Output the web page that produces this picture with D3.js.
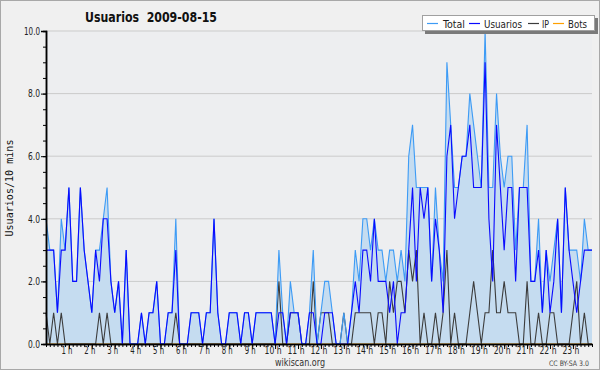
<!DOCTYPE html>
<html><head><meta charset="utf-8">
<script src="https://cdn.jsdelivr.net/npm/d3@7"></script>
<style>body{margin:0;background:#f0f0f0}svg{display:block}</style>
</head><body><svg id="c" width="600" height="370"></svg>
<script>
const hourLabels = ["1 h","2 h","3 h","4 h","5 h","6 h","7 h","8 h","9 h","10 h","11 h","12 h","13 h","14 h","15 h","16 h","17 h","18 h","19 h","20 h","21 h","22 h","23 h"];
const yTicks = [0, 2, 4, 6, 8, 10];
const total = [4,3,3,1,4,3,5,2,2,5, 3,2,1,3,3,4,5,2,1,2, 0,3,0,0,0,1,0,1,1,2, 0,0,1,1,4,0,0,0,1,1,
  1,0,1,1,4,1,0,0,1,1, 1,0,1,1,0,1,1,1,1,1, 0,3,1,0,2,1,1,0,0,1, 3,0,1,2,2,1,0,0,1,0,
  1,3,2,4,4,3,4,3,3,2, 3,3,2,3,2,6,7,5,5,5, 5,2,5,3,2,9,7,5,5,6, 6,8,7,6,5,10,5,5,8,6,
  5,6,6,3,5,5,7,2,2,4, 1,3,2,3,4,1,5,3,3,3, 2,4,3,3];
const usuarios = [3,3,3,1,3,3,5,2,2,5, 3,2,1,3,2,4,4,2,1,2, 0,3,0,0,0,1,0,1,1,2, 0,0,1,1,3,0,0,0,1,1,
  1,0,1,1,4,1,0,0,1,1, 1,0,1,1,0,1,1,1,1,1, 0,1,1,0,1,1,1,0,0,1, 1,0,0,1,1,1,0,0,0,0,
  1,2,1,3,3,2,4,2,2,2, 1,2,0,1,1,3,5,2,5,4, 5,2,4,3,1,6,7,4,5,6, 6,7,5,5,5,9,4,2,7,5,
  3,5,5,2,5,5,5,2,2,3, 1,3,1,2,4,1,5,3,2,1, 2,3,3,3];
const ip = [1,0,1,0,1,0,0,0,0,0, 0,0,0,0,1,0,1,0,0,0, 0,0,0,0,0,0,0,0,0,0, 0,0,0,0,1,0,0,0,0,0,
  0,0,0,0,0,0,0,0,0,0, 0,0,0,0,0,0,0,0,0,0, 0,2,0,0,1,1,1,0,0,0, 2,0,1,1,1,0,0,0,1,0,
  0,1,1,1,1,1,0,1,1,0, 2,1,2,2,1,3,2,3,0,1, 0,0,1,0,1,3,0,1,0,0, 0,1,2,1,0,1,1,3,1,1,
  2,1,1,1,0,0,2,0,0,1, 0,0,1,1,0,0,0,0,1,2, 0,1,0,0];
const bots = [0,0,0,0,0,0,0,0,0,0, 0,0,0,0,0,0,0,0,0,0, 0,0,0,0,0,0,0,0,0,0, 0,0,0,0,0,0,0,0,0,0,
  0,0,0,0,0,0,0,0,0,0, 0,0,0,0,0,0,0,0,0,0, 0,0,0,0,0,0,0,0,0,0, 0,0,0,0,0,0,0,0,0,0,
  0,0,0,0,0,0,0,0,0,0, 0,0,0,0,0,0,0,0,0,0, 0,0,0,0,0,0,0,0,0,0, 0,0,0,0,0,0,0,0,0,0,
  0,0,0,0,0,0,0,0,0,0, 0,0,0,0,0,0,0,0,0,0, 0,0,0,0];
const legendNames = ["Total","Usuarios","IP","Bots"];
const colors = {Total:"#3d9bf5", Usuarios:"#0a0aff", IP:"#3c3c3c", Bots:"#ffa000"};

const svg = d3.select("#c");
const W = 600, H = 370;
const x = d3.scaleLinear().domain([0, 143]).range([46, 592]);
const y = d3.scaleLinear().domain([0, 10]).range([344, 31]);
const FONT = "'DejaVu Sans Condensed','DejaVu Sans',sans-serif";

svg.append("rect").attr("x",0.5).attr("y",0.5).attr("width",W-1).attr("height",H-1)
  .attr("fill","#f0f0f0").attr("stroke","#a8a8a8");
svg.append("rect").attr("x",46).attr("y",y(10)).attr("width",592-46).attr("height",y(0)-y(10))
  .attr("fill","#edeef0");

// grid
svg.append("g").selectAll("line").data(yTicks.filter(d=>d>0)).join("line")
  .attr("x1",46).attr("x2",592).attr("y1",d=>y(d)).attr("y2",d=>y(d))
  .attr("stroke","#cbcbcb").attr("stroke-width",1);

const idx = d3.range(total.length);
svg.append("path").datum(idx)
  .attr("d", d3.area().x(i=>x(i)).y0(y(0)).y1(i=>y(total[i])))
  .attr("fill","#c5dcf0");

function line(arr, col, w){
  svg.append("path").datum(idx)
    .attr("d", d3.line().x(i=>x(i)).y(i=>y(arr[i])))
    .attr("fill","none").attr("stroke",col).attr("stroke-width",w).attr("stroke-linejoin","miter");
}
line(bots, colors.Bots, 1.1);
line(ip, colors.IP, 1.1);
line(total, colors.Total, 1.1);
line(usuarios, colors.Usuarios, 1.1);

// y axis
const gy = svg.append("g").attr("transform","translate(46,0)");
gy.call(d3.axisLeft(y).tickValues(d3.range(0,10.01,0.5)).tickSize(3).tickFormat(""));
const gy2 = svg.append("g").attr("transform","translate(46,0)");
gy2.call(d3.axisLeft(y).tickValues(yTicks).tickSize(5).tickPadding(1).tickFormat(d3.format(".1f")));
[gy,gy2].forEach(g=>{g.select(".domain").attr("stroke","#000").attr("stroke-width",1.5);
  g.selectAll(".tick line").attr("stroke","#000");});
gy2.selectAll("text").attr("font-family",FONT).attr("font-size",10).attr("fill","#222")
  .attr("textLength",d=>d>=10?16:12).attr("lengthAdjust","spacingAndGlyphs");

// x axis
const gx = svg.append("g").attr("transform","translate(0,344)");
gx.call(d3.axisBottom(x).tickValues(d3.range(0,144,1)).tickSize(3).tickFormat("").tickSizeOuter(0));
const gx2 = svg.append("g").attr("transform","translate(0,344)");
gx2.call(d3.axisBottom(x).tickValues(hourLabels.map((d,k)=>(k+1)*6)).tickSize(5).tickPadding(1)
  .tickFormat((d,k)=>hourLabels[k]).tickSizeOuter(0));
[gx,gx2].forEach(g=>{g.select(".domain").attr("stroke","#000").attr("stroke-width",1.5);
  g.selectAll(".tick line").attr("stroke","#000");});
gx2.selectAll("text").attr("font-family",FONT).attr("font-size",10).attr("fill","#222")
  .attr("x",-2.5).attr("y",3)
  .attr("textLength",(d,k)=>hourLabels[k].length>3?17:11).attr("lengthAdjust","spacingAndGlyphs");

// y title
svg.append("text").attr("transform","translate(13,188) rotate(-90)").attr("text-anchor","middle")
  .attr("font-family","'DejaVu Sans Mono',monospace").attr("font-size",11).attr("fill","#111")
  .attr("textLength",97).attr("lengthAdjust","spacingAndGlyphs").text("Usuarios/10 mins");

// title
svg.append("text").attr("x",85).attr("y",22).attr("font-family",FONT)
  .attr("font-weight","bold").attr("font-size",13.5).attr("fill","#111").style("white-space","pre")
  .attr("textLength",132).attr("lengthAdjust","spacingAndGlyphs").text("Usuarios  2009-08-15");

// footer
svg.append("text").attr("x",300).attr("y",366).attr("text-anchor","middle").attr("font-family",FONT)
  .attr("font-size",10.5).attr("fill","#333").attr("textLength",50).attr("lengthAdjust","spacingAndGlyphs").text("wikiscan.org");
svg.append("text").attr("x",589).attr("y",366).attr("text-anchor","end").attr("font-family",FONT)
  .attr("font-size",7.5).attr("fill","#444").attr("textLength",40).attr("lengthAdjust","spacingAndGlyphs").text("CC BY-SA 3.0");

// legend
const lg = svg.append("g");
lg.append("rect").attr("x",425).attr("y",18).attr("width",173).attr("height",16).attr("fill","#7a7a7a");
lg.append("rect").attr("x",422.5).attr("y",15.5).attr("width",172).attr("height",15).attr("fill","#fff").attr("stroke","#a0a0a0");
const swX = [427, 469, 528, 553], txX = [443, 484, 542, 568], txW = [22, 38, 7, 19];
legendNames.forEach((n,k)=>{
  lg.append("line").attr("x1",swX[k]).attr("x2",swX[k]+11).attr("y1",23.5).attr("y2",23.5)
    .attr("stroke",colors[n]).attr("stroke-width",1.2);
  lg.append("text").attr("x",txX[k]).attr("y",27.5).attr("font-family",FONT).attr("font-size",11)
    .attr("fill","#222").attr("textLength",txW[k]).attr("lengthAdjust","spacingAndGlyphs").text(n);
});
</script></body></html>
